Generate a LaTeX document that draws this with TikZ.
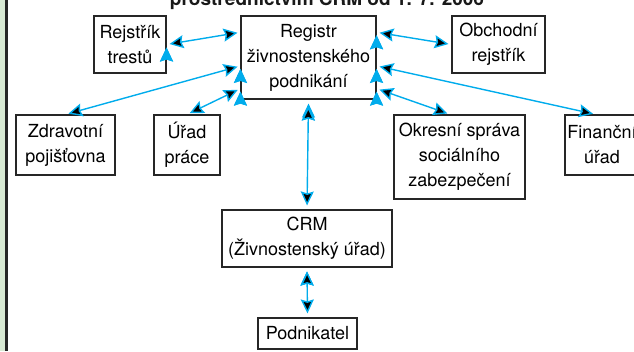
\documentclass[tikz,border=0pt]{standalone}
\usepackage{fontspec}
\setmainfont{TeX Gyre Heros}
\usepackage{xcolor}
\usepackage{tikz}
\usetikzlibrary{positioning,arrows.meta,calc}
\definecolor{linkblue}{RGB}{0,172,236}
\definecolor{stripgreen}{RGB}{216,234,212}
\tikzset{office/.style={draw=black!85,line width=1.1pt,fill=white,align=center,inner sep=2pt,font=\fontsize{18}{25}\selectfont},
    link/.style={{Stealth[length=14pt,width=13pt,inset=2pt]}-{Stealth[length=14pt,width=13pt,inset=2pt]},draw=linkblue,line width=1.4pt,shorten >=3pt,shorten <=3pt},
    vlink/.style={link,shorten >=4pt,shorten <=4pt}}

\begin{document}
\begin{tikzpicture}[x=1pt,y=-1pt]
    \clip (0,0) rectangle (634,351);
    \fill[stripgreen] (0,0) rectangle (5,351);
    \fill[black!85] (5,0) rectangle (8,351);
    \node[anchor=base,text=black!90,font=\fontsize{19}{22}\selectfont\bfseries](title) at (327,5){prostřednictvím CRM od 1. 7. 2006};

    \node[office,minimum width=135pt,minimum height=83pt](reg) at (308.5,57.5){Registr\\živnostenského\\podnikání};
    \node[office,minimum width=72pt,minimum height=57pt](rej) at (130,44.5){Rejstřík\\trestů};
    \node[office,minimum width=93pt,minimum height=57pt](obch) at (498.5,44.5){Obchodní\\rejstřík};
    \node[office,minimum width=99pt,minimum height=60pt](zdr) at (65.5,145){Zdravotní\\pojišťovna};
    \node[office,minimum width=66pt,minimum height=60pt](urad) at (187,145){Úřad\\práce};
    \node[office,minimum width=131pt,minimum height=84pt](okr) at (459.5,157){Okresní správa\\sociálního\\zabezpečení};
    \node[office,minimum width=74pt,minimum height=60pt](fin) at (602,145){Finanční\\úřad};
    \node[office,minimum width=170pt,minimum height=57pt](crm) at (307,238.5){CRM\\(Živnostenský úřad)};
    \node[office,minimum width=99pt,minimum height=31pt](pod) at (307.5,333.5){Podnikatel};

    \path[link] (rej.east) edge ($(reg.north west)!.2!(reg.south west)$);
    \path[link] ($(reg.north east)!.2!(reg.south east)$) edge (obch.west);
    \path[link] ($(reg.north west)!.6!(reg.south west)$) edge (zdr.north);
    \path[link] ($(reg.north west)!.87!(reg.south west)$) edge (urad.north);
    \path[link] ($(reg.north east)!.87!(reg.south east)$) edge ($(okr.north west)!.43!(okr.north east)$);
    \path[link] ($(reg.north east)!.6!(reg.south east)$) edge ($(fin.north west)!.42!(fin.north east)$);
    \path[vlink,shorten <=7pt] (reg.south) edge (crm.north);
    \path[vlink] (crm.south) edge (pod.north);
\end{tikzpicture}
\end{document}
